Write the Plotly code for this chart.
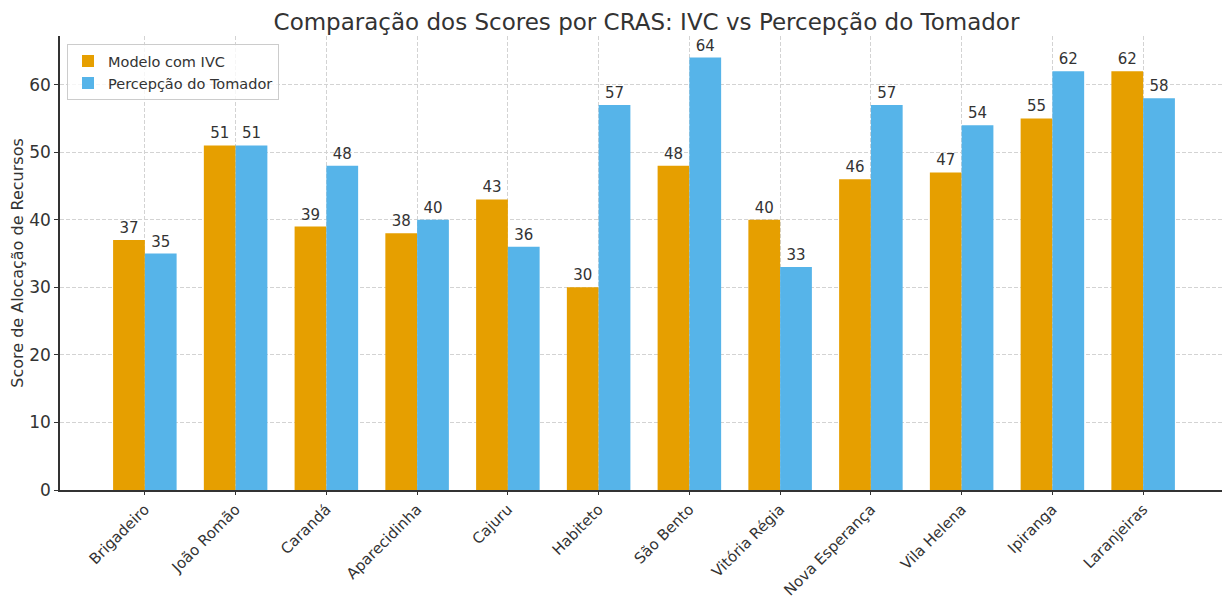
import plotly.graph_objects as go

categorias = ["Brigadeiro", "João Romão", "Carandá", "Aparecidinha", "Cajuru", "Habiteto",
              "São Bento", "Vitória Régia", "Nova Esperança", "Vila Helena", "Ipiranga", "Laranjeiras"]
modelo_ivc = [37, 51, 39, 38, 43, 30, 48, 40, 46, 47, 55, 62]
percepcao = [35, 51, 48, 40, 36, 57, 64, 33, 57, 54, 62, 58]

FONT = "DejaVu Sans"
TXT = "#333333"

fig = go.Figure()
fig.add_trace(go.Bar(x=categorias, y=modelo_ivc, name="Modelo com IVC",
                     marker=dict(color="#E69F00", line=dict(width=0)),
                     text=modelo_ivc, textposition="outside", cliponaxis=False,
                     textfont=dict(size=15, color=TXT, family=FONT)))
fig.add_trace(go.Bar(x=categorias, y=percepcao, name="Percepção do Tomador",
                     marker=dict(color="#56B4E9", line=dict(width=0)),
                     text=percepcao, textposition="outside", cliponaxis=False,
                     textfont=dict(size=15, color=TXT, family=FONT)))

fig.update_layout(
    width=1222, height=597,
    margin=dict(l=52, r=2, t=28, b=115),
    paper_bgcolor="white", plot_bgcolor="white",
    barmode="group", bargap=0.3, bargroupgap=0,
    font=dict(family=FONT, color=TXT),
    title=dict(text="Comparação dos Scores por CRAS: IVC vs Percepção do Tomador",
               x=0.5225, xanchor="center", y=0.977, yanchor="middle",
               font=dict(size=23, color=TXT, family=FONT)),
    legend=dict(x=0.006, y=0.982, xanchor="left", yanchor="top",
                bgcolor="rgba(255,255,255,0.8)", bordercolor="#cccccc", borderwidth=1,
                font=dict(size=14.5, color=TXT, family=FONT)),
)
fig.update_xaxes(range=[-0.935, 11.935], tickangle=-45, automargin=False,
                 showgrid=True, gridcolor="#d3d3d3", griddash="4px,2px", gridwidth=0.8,
                 showline=True, linecolor="#333333", linewidth=1.5,
                 ticks="outside", ticklen=3, tickcolor="#333333",
                 tickfont=dict(size=15, color=TXT, family=FONT))
fig.update_yaxes(range=[0, 67.2], dtick=10, automargin=False,
                 showgrid=True, gridcolor="#d3d3d3", griddash="4px,2px", gridwidth=0.8,
                 showline=True, linecolor="#333333", linewidth=1.5,
                 ticks="outside", ticklen=4, tickcolor="#333333", zeroline=False,
                 tickfont=dict(size=17, color=TXT, family=FONT),
                 title=dict(text="Score de Alocação de Recursos", standoff=8,
                            font=dict(size=16, color=TXT, family=FONT)))

fig.write_html("out.html")
